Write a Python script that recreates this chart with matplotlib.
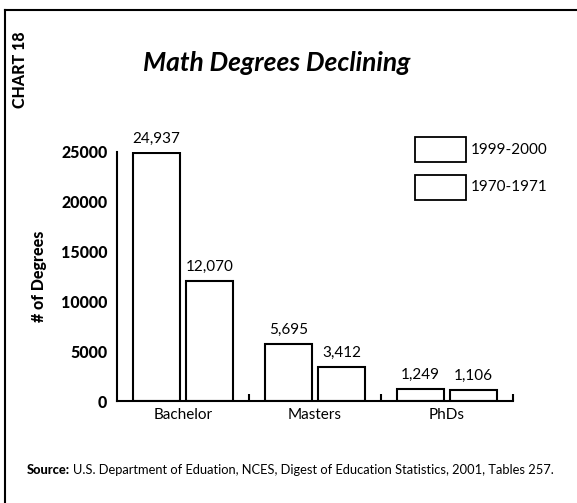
import matplotlib
matplotlib.use("Agg")
import matplotlib.pyplot as plt
from matplotlib.patches import Rectangle
from matplotlib.lines import Line2D
import numpy as np

categories = ["Bachelor", "Masters", "PhDs"]
values_1970 = [24937, 5695, 1249]
values_1999 = [12070, 3412, 1106]
value_labels_1970 = ["24,937", "5,695", "1,249"]
value_labels_1999 = ["12,070", "3,412", "1,106"]
legend_labels = ["1999-2000", "1970-1971"]
yticks = [0, 5000, 10000, 15000, 20000, 25000]

plt.rcParams['font.family'] = ['Lato', 'DejaVu Sans']

W, H = 577, 503
fig = plt.figure(figsize=(W / 100, H / 100), dpi=100)
fig.patch.set_facecolor("white")

ax = fig.add_axes([117 / W, (H - 401) / H, (513 - 117) / W, (401 - 152) / H])

x = np.arange(len(categories))
bw = 0.36
off = 0.2
ax.bar(x - off, values_1970, bw, facecolor="white", edgecolor="black", linewidth=1.5)
ax.bar(x + off, values_1999, bw, facecolor="white", edgecolor="black", linewidth=1.5)

for xi, v, t in zip(x - off, values_1970, value_labels_1970):
    ax.annotate(t, (xi, v), xytext=(0, 5), textcoords="offset points",
                ha="center", va="bottom", fontsize=11)
for xi, v, t in zip(x + off, values_1999, value_labels_1999):
    ax.annotate(t, (xi, v), xytext=(0, 5), textcoords="offset points",
                ha="center", va="bottom", fontsize=11)

ax.set_xlim(-0.5, 2.5)
ax.set_ylim(0, 25000)
ax.set_yticks(yticks)
ax.set_yticklabels([str(v) for v in yticks], fontsize=11.5, fontweight="black")
ax.tick_params(axis="y", length=0, pad=7)
ax.set_xticks(x)
ax.set_xticklabels(categories, fontsize=11)
ax.tick_params(axis="x", which="major", length=0, pad=5)
ax.set_xticks([0.5, 1.5, 2.5], minor=True)
ax.tick_params(axis="x", which="minor", direction="in", length=5, width=1.5)

for s in ["top", "right"]:
    ax.spines[s].set_visible(False)
for s in ["left", "bottom"]:
    ax.spines[s].set_linewidth(1.5)

ax.set_ylabel("# of Degrees", fontsize=11.5, fontweight="black", labelpad=10)

# legend drawn as boxes + labels in figure pixel space
legend_tops = [137, 175]
for top, lab in zip(legend_tops, legend_labels):
    fig.add_artist(Rectangle((415 / W, 1 - (top + 25) / H), 51 / W, 25 / H,
                             facecolor="white", edgecolor="black", linewidth=1.3,
                             transform=fig.transFigure))
    fig.text(471 / W, 1 - (top + 12.5) / H, lab, fontsize=11, ha="left", va="center")

fig.text(277 / W, 1 - 63 / H, "Math Degrees Declining", fontsize=19,
         fontweight="bold", fontstyle="italic", ha="center", va="center")
fig.text(20 / W, 1 - 70 / H, "CHART 18", fontsize=11.5, fontweight="black",
         rotation=90, ha="center", va="center")

fig.text(27 / W, 1 - 470 / H, "Source:", fontsize=9.3, fontweight="black",
         ha="left", va="center")
fig.text(73 / W, 1 - 470 / H,
         "U.S. Department of Eduation, NCES, Digest of Education Statistics, 2001, Tables 257.",
         fontsize=9.3, ha="left", va="center")

fig.add_artist(Line2D([5 / W, 1], [1 - 10 / H, 1 - 10 / H], color="black", linewidth=1.5))
fig.add_artist(Line2D([5 / W, 5 / W], [0, 1 - 10 / H], color="black", linewidth=1.5))

fig.savefig("out.png", dpi=100, facecolor="white")
